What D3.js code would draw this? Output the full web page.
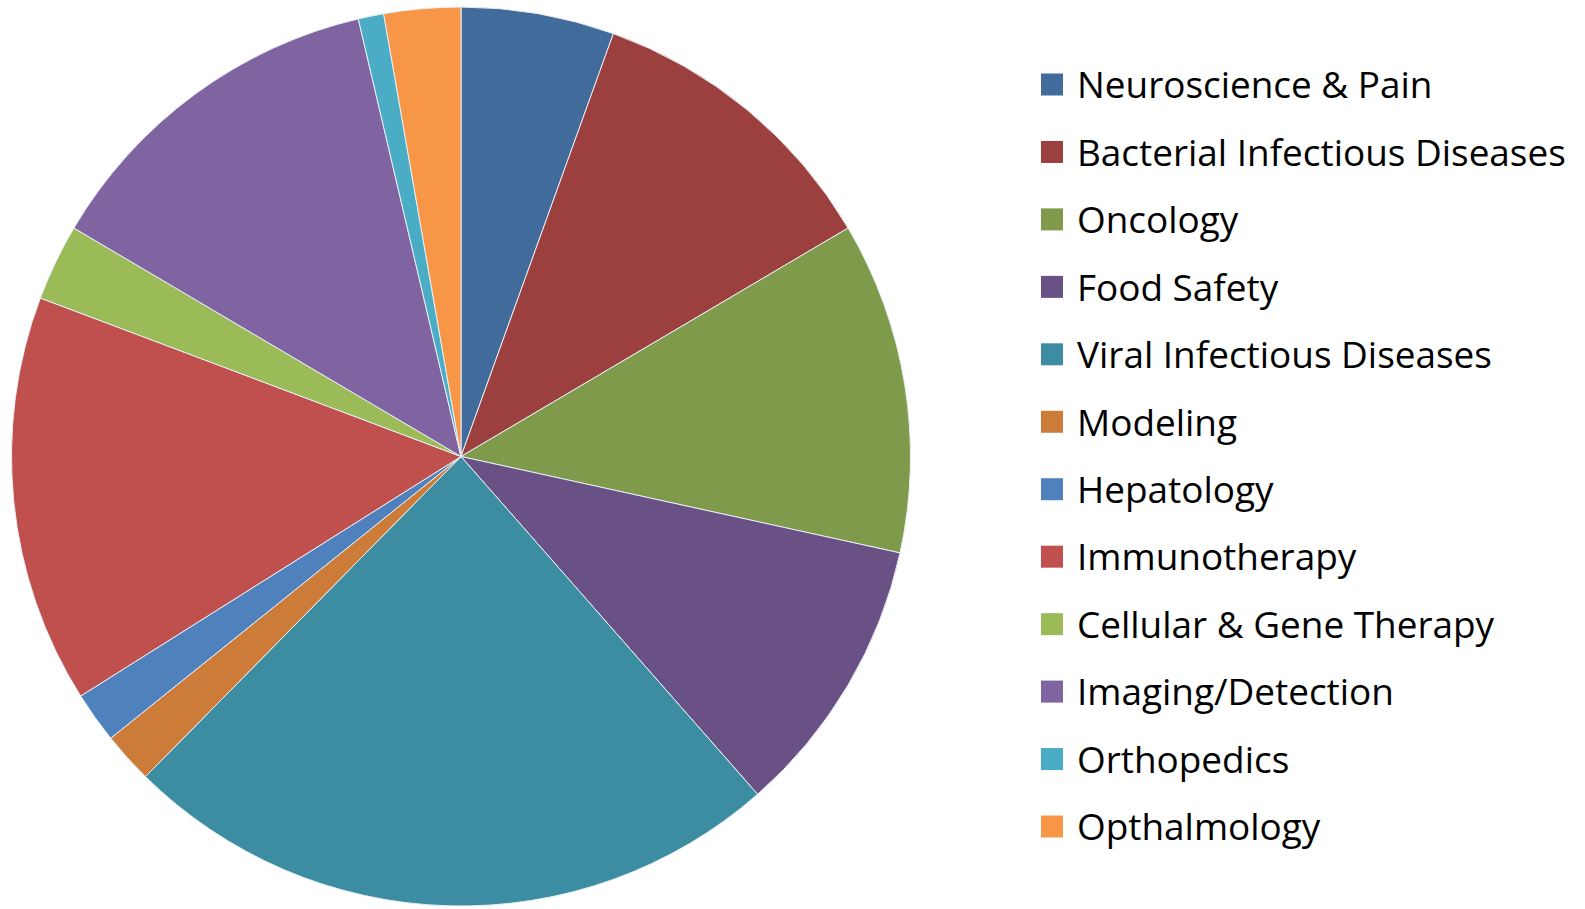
<!DOCTYPE html>
<html>
<head>
<meta charset="utf-8">
<script src="https://cdn.jsdelivr.net/npm/d3@7"></script>
<style>
  body { margin: 0; background: #fff; }
  svg { display: block; }
</style>
</head>
<body>
<svg id="chart"></svg>
<script>
const categories = [
  "Neuroscience & Pain", "Bacterial Infectious Diseases", "Oncology", "Food Safety",
  "Viral Infectious Diseases", "Modeling", "Hepatology", "Immunotherapy",
  "Cellular & Gene Therapy", "Imaging/Detection", "Orthopedics", "Opthalmology"
];
const values = [6, 12, 13, 11, 26, 2, 2, 16, 3, 14, 1, 3];
const colors = [
  "#416b9b", "#9c403f", "#7e9a4a", "#695185", "#3c8ca2", "#cc7b39",
  "#4f81bd", "#c0504d", "#9bbb59", "#8064a2", "#4bacc6", "#f79646"
];

const width = 1585, height = 909;
const cx = 461, cy = 456.5, radius = 449.5;

const svg = d3.select("#chart").attr("width", width).attr("height", height);

const data = categories.map((c, i) => ({ category: c, value: values[i] }));
const color = d3.scaleOrdinal().domain(categories).range(colors);

const pie = d3.pie().value(d => d.value).sort(null);
const arc = d3.arc().innerRadius(0).outerRadius(radius);

svg.append("g")
  .attr("transform", `translate(${cx},${cy})`)
  .selectAll("path")
  .data(pie(data))
  .enter()
  .append("path")
  .attr("d", arc)
  .attr("fill", d => color(d.data.category))
  .attr("stroke", "#e8eef5")
  .attr("stroke-width", 1);

// legend
const legendY = d3.scalePoint().domain(categories).range([85, 827]);
const legend = svg.append("g").attr("font-family", "'Open Sans', 'Liberation Sans', sans-serif");

const rows = legend.selectAll("g")
  .data(categories)
  .enter()
  .append("g")
  .attr("transform", d => `translate(1041,${legendY(d)})`);

rows.append("rect")
  .attr("x", 0).attr("y", -11.5)
  .attr("width", 22).attr("height", 22)
  .attr("fill", d => color(d));

const labels = rows.append("text")
  .attr("x", 36)
  .attr("dy", "0.36em")
  .style("font-size", "32px")
  .attr("fill", "#000")
  .text(d => d);

// fit the longest label to the width seen in the reference
let maxW = 0;
labels.each(function() { maxW = Math.max(maxW, this.getComputedTextLength()); });
const fs = 32 * 489 / maxW;
labels.style("font-size", fs + "px");
</script>
</body>
</html>
